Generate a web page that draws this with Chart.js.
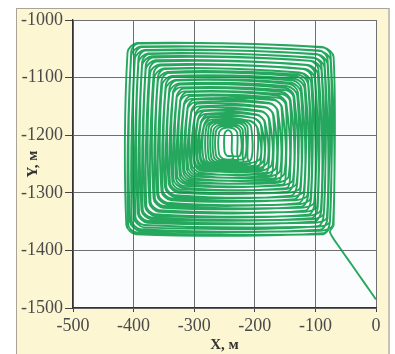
<!DOCTYPE html>
<html>
<head>
<meta charset="utf-8">
<script src="https://cdn.jsdelivr.net/npm/chart.js@4"></script>
<style>
html, body { margin: 0; padding: 0; background: #fff; }
#frame {
    position: absolute; left: 16px; top: 8px; width: 371px; height: 346px;
    background: #fdf6d2; border: 1px solid #a9a497; border-bottom: none;
    border-right: 2px solid #c8c2b0;
}
#wrap { position: absolute; left: 0; top: 0; width: 395px; height: 354px; }
</style>
</head>
<body>
<div id="frame"></div>
<div id="wrap"><canvas id="trackChart" width="395" height="354"></canvas></div>
<script>
// tick labels
const xTicks = [-500, -400, -300, -200, -100, 0];
const yTicks = [-1500, -1400, -1300, -1200, -1100, -1000];

// trajectory, metres (one row per loop: in to the centre, then back out)
const trackX = [
    0, -20, -40, -60, -76,
    -70, -70, -86, -394, -410, -412, -396, -86,
    -76, -75, -92, -388, -404, -406, -390, -92,
    -80, -80, -96, -382, -398, -399, -383, -96,
    -86, -85, -102, -376, -392, -393, -377, -102,
    -90, -90, -106, -370, -386, -387, -371, -106,
    -96, -96, -112, -364, -380, -381, -365, -112,
    -101, -101, -117, -357, -373, -374, -358, -117,
    -107, -107, -123, -350, -366, -367, -351, -123,
    -112, -112, -128, -344, -360, -361, -345, -128,
    -118, -118, -134, -337, -353, -354, -338, -134,
    -124, -124, -140, -331, -347, -348, -332, -140,
    -130, -130, -146, -325, -341, -342, -326, -146,
    -136, -136, -148, -323, -335, -336, -324, -148,
    -142, -142, -154, -317, -329, -330, -318, -154,
    -149, -149, -161, -311, -323, -324, -312, -161,
    -156, -156, -168, -305, -317, -318, -306, -168,
    -163, -163, -175, -299, -311, -312, -300, -175,
    -170, -170, -182, -293, -305, -306, -294, -182,
    -177, -177, -189, -287, -299, -300, -288, -189,
    -184, -184, -196, -282, -294, -295, -283, -196,
    -190, -190, -202, -277, -289, -290, -278, -202,
    -196, -196, -208, -272, -284, -285, -273, -208,
    -212, -212, -220, -268, -276, -276, -268, -220,
    -220, -220, -228, -260, -268, -268, -260, -228,
    -229, -229, -236, -252, -259, -259, -252, -236,
    -238, -238, -242, -246, -250, -250, -246, -242,
    -224, -224, -232, -256, -264, -264, -256, -232,
    -216, -216, -224, -264, -272, -272, -264, -224,
    -206, -206, -216, -270, -280, -280, -270, -216,
    -191, -195, -209, -273, -284, -289, -275, -207,
    -185, -189, -203, -278, -289, -294, -280, -201,
    -179, -183, -197, -283, -294, -299, -285, -195,
    -172, -176, -190, -288, -299, -304, -290, -188,
    -165, -169, -183, -294, -305, -310, -296, -181,
    -158, -162, -176, -300, -311, -316, -302, -174,
    -151, -155, -169, -306, -317, -322, -308, -167,
    -144, -148, -162, -312, -323, -328, -314, -160,
    -137, -141, -155, -318, -329, -334, -320, -153,
    -131, -135, -149, -324, -335, -340, -326, -147,
    -125, -129, -143, -330, -341, -346, -332, -141,
    -119, -123, -137, -336, -347, -352, -338, -135,
    -113, -117, -131, -343, -354, -359, -345, -129,
    -108, -112, -126, -349, -360, -365, -351, -124,
    -102, -106, -120, -356, -367, -372, -358, -118,
    -97, -101, -115, -363, -374, -379, -365, -113,
    -91, -95, -109, -369, -380, -385, -371, -107,
    -86, -90, -104, -375, -386, -391, -377, -102,
    -81, -85, -99, -381, -392, -397, -383, -97,
    -76, -80, -94, -387, -398, -403, -389, -92,
    -71, -75, -89, -393, -404, -409, -395, -87,
    -78
];
const trackY = [
    -1485, -1455, -1425, -1395, -1368,
    -1356, -1064, -1048, -1040, -1056, -1356, -1372, -1370,
    -1350, -1070, -1054, -1046, -1062, -1350, -1366, -1364,
    -1344, -1076, -1060, -1052, -1068, -1344, -1360, -1358,
    -1336, -1082, -1066, -1058, -1074, -1336, -1352, -1350,
    -1330, -1087, -1071, -1063, -1079, -1330, -1346, -1344,
    -1324, -1094, -1078, -1070, -1086, -1324, -1340, -1338,
    -1317, -1101, -1085, -1077, -1093, -1317, -1333, -1331,
    -1310, -1108, -1092, -1084, -1100, -1310, -1326, -1324,
    -1304, -1111, -1095, -1090, -1106, -1304, -1320, -1318,
    -1297, -1118, -1102, -1097, -1113, -1297, -1313, -1311,
    -1291, -1125, -1109, -1104, -1120, -1291, -1307, -1305,
    -1284, -1131, -1115, -1110, -1126, -1284, -1300, -1298,
    -1282, -1134, -1122, -1117, -1129, -1282, -1294, -1292,
    -1276, -1141, -1129, -1124, -1136, -1276, -1288, -1286,
    -1270, -1147, -1135, -1130, -1142, -1270, -1282, -1280,
    -1265, -1151, -1139, -1137, -1149, -1265, -1277, -1275,
    -1260, -1157, -1145, -1143, -1155, -1260, -1272, -1270,
    -1255, -1164, -1152, -1150, -1162, -1255, -1267, -1265,
    -1250, -1171, -1159, -1157, -1169, -1250, -1262, -1260,
    -1246, -1177, -1165, -1163, -1175, -1246, -1258, -1256,
    -1243, -1182, -1170, -1168, -1180, -1243, -1255, -1253,
    -1240, -1187, -1175, -1173, -1185, -1240, -1252, -1250,
    -1240, -1186, -1178, -1178, -1186, -1240, -1248, -1248,
    -1237, -1191, -1183, -1183, -1191, -1237, -1245, -1245,
    -1233, -1196, -1188, -1188, -1196, -1233, -1241, -1241,
    -1228, -1198, -1192, -1192, -1198, -1228, -1236, -1236,
    -1235, -1193, -1185, -1185, -1193, -1235, -1243, -1243,
    -1239, -1188, -1180, -1180, -1188, -1239, -1247, -1247,
    -1242, -1186, -1176, -1176, -1186, -1242, -1250, -1250,
    -1240, -1189, -1175, -1169, -1183, -1240, -1254, -1257,
    -1243, -1184, -1170, -1164, -1178, -1243, -1257, -1260,
    -1246, -1178, -1164, -1158, -1172, -1246, -1260, -1263,
    -1251, -1172, -1158, -1152, -1166, -1251, -1265, -1268,
    -1256, -1165, -1151, -1145, -1159, -1256, -1270, -1273,
    -1261, -1158, -1144, -1138, -1152, -1261, -1275, -1278,
    -1266, -1152, -1138, -1132, -1146, -1266, -1280, -1283,
    -1271, -1145, -1131, -1125, -1139, -1271, -1285, -1288,
    -1277, -1139, -1125, -1119, -1133, -1277, -1291, -1294,
    -1283, -1132, -1118, -1112, -1126, -1283, -1297, -1300,
    -1290, -1125, -1111, -1105, -1119, -1290, -1304, -1307,
    -1296, -1119, -1105, -1099, -1113, -1296, -1310, -1313,
    -1303, -1112, -1098, -1092, -1106, -1303, -1317, -1320,
    -1309, -1105, -1091, -1085, -1099, -1309, -1323, -1326,
    -1316, -1099, -1085, -1079, -1093, -1316, -1330, -1333,
    -1323, -1092, -1078, -1072, -1086, -1323, -1337, -1340,
    -1329, -1085, -1071, -1065, -1079, -1329, -1343, -1346,
    -1335, -1079, -1065, -1059, -1073, -1335, -1349, -1352,
    -1342, -1073, -1059, -1053, -1067, -1342, -1356, -1359,
    -1349, -1067, -1053, -1047, -1061, -1349, -1363, -1366,
    -1355, -1061, -1047, -1041, -1055, -1355, -1369, -1372,
    -1364
];

const points = trackX.map((x, i) => ({x: x, y: trackY[i]}));

const serif = 'Liberation Serif, DejaVu Serif, serif';

// white plot area on the yellow card
const plotBackground = {
    id: 'plotBackground',
    beforeDraw(chart) {
        const {ctx, chartArea: a} = chart;
        ctx.save();
        ctx.fillStyle = '#fbfcfe';
        ctx.fillRect(a.left, a.top, a.right - a.left, a.bottom - a.top);
        ctx.restore();
    }
};

new Chart(document.getElementById('trackChart'), {
    type: 'scatter',
    data: {
        datasets: [{
            data: points,
            showLine: true,
            borderColor: 'rgba(0, 152, 66, 0.85)',
            borderWidth: 1.9,
            pointRadius: 0,
            tension: 0.3
        }]
    },
    plugins: [plotBackground],
    options: {
        responsive: false,
        animation: false,
        layout: { padding: { left: 0, top: 20, right: 19, bottom: 0 } },
        plugins: { legend: { display: false }, tooltip: { enabled: false } },
        scales: {
            x: {
                type: 'linear', position: 'bottom', min: -500, max: 0,
                afterBuildTicks: s => { s.ticks = xTicks.map(v => ({value: v})); },
                afterFit: s => { s.height = 46; },
                grid: { color: '#6f6f6f', lineWidth: 1, tickLength: 4, tickColor: '#444' },
                border: { color: '#333', width: 1.3 },
                ticks: {
                    font: { family: serif, size: 18 }, color: '#4a4a4a',
                    padding: 3, maxRotation: 0,
                    callback: v => String(v)
                },
                title: {
                    display: true, text: 'X, м', color: '#333',
                    font: { family: serif, size: 15, weight: 'bold' },
                    padding: { top: 2, bottom: 0 }
                }
            },
            y: {
                type: 'linear', position: 'left', min: -1500, max: -1000,
                afterBuildTicks: s => { s.ticks = yTicks.map(v => ({value: v})); },
                afterFit: s => { s.width = 73; },
                grid: { color: '#6f6f6f', lineWidth: 1, tickLength: 8, tickColor: '#444' },
                border: { color: '#333', width: 1.3 },
                ticks: {
                    font: { family: serif, size: 18 }, color: '#4a4a4a',
                    padding: 2,
                    callback: v => String(v)
                },
                title: {
                    display: true, text: 'Y, м', color: '#333',
                    font: { family: serif, size: 15, weight: 'bold' },
                    padding: { top: 24, bottom: 0 }
                }
            }
        }
    }
});
</script>
</body>
</html>
